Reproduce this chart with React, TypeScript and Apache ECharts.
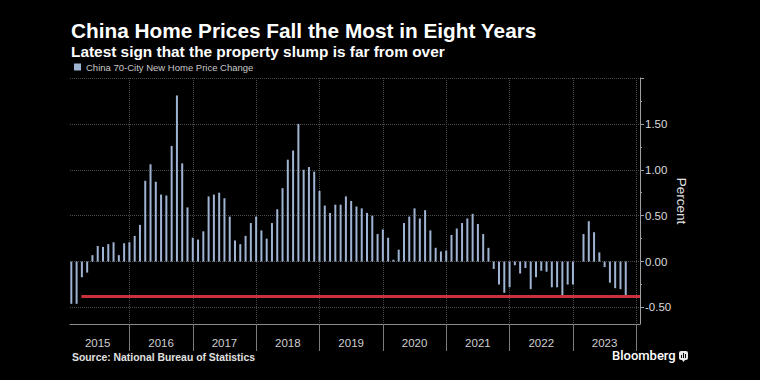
import React, { useEffect, useRef } from "react";
import * as echarts from "echarts";

const yearLabels = ["2015", "2016", "2017", "2018", "2019", "2020", "2021", "2022", "2023"];

const change2015 = [-0.46, -0.46, -0.17, -0.12, 0.07, 0.17, 0.16, 0.19, 0.21, 0.07, 0.2, 0.21];
const change2016 = [0.28, 0.4, 0.88, 1.06, 0.87, 0.73, 0.72, 1.26, 1.81, 1.07, 0.59, 0.26];
const change2017 = [0.24, 0.33, 0.71, 0.73, 0.75, 0.69, 0.49, 0.23, 0.19, 0.28, 0.42, 0.49];
const change2018 = [0.34, 0.25, 0.42, 0.57, 0.8, 1.11, 1.21, 1.5, 1.0, 1.03, 0.98, 0.77];
const change2019 = [0.61, 0.53, 0.62, 0.62, 0.71, 0.66, 0.6, 0.58, 0.53, 0.5, 0.3, 0.35];
const change2020 = [0.26, 0.02, 0.13, 0.42, 0.49, 0.58, 0.47, 0.56, 0.34, 0.15, 0.11, 0.12];
const change2021 = [0.29, 0.36, 0.42, 0.47, 0.52, 0.41, 0.3, 0.15, -0.08, -0.25, -0.34, -0.28];
const change2022 = [-0.04, -0.13, -0.07, -0.3, -0.17, -0.1, -0.11, -0.28, -0.28, -0.37, -0.25, -0.25];
const change2023 = [0.0, 0.3, 0.44, 0.32, 0.1, -0.06, -0.23, -0.29, -0.3, -0.38];

const monthlyChange = [
  ...change2015, ...change2016, ...change2017, ...change2018, ...change2019,
  ...change2020, ...change2021, ...change2022, ...change2023,
];

const SERIES_NAME = "China 70-City New Home Price Change";

// value extents (months since Jan 1 2015 / percent)
const X_MIN = 0.75;
const X_MAX = 108.7;
const Y_MIN = -0.68;
const Y_MAX = 2.0;
const YEAR_TICK_MIN = 12;
const YEAR_TICK_MAX = 108;
const YEAR_LABEL_MIN = 6;
const YEAR_LABEL_MAX = 102;
const Y_TICK_MIN = -0.5;
const RED_START = 2.9;

// layout
const W = 760;
const H = 380;
const PLOT_L = 70;
const PLOT_R = 640;
const PLOT_T = 78;
const PLOT_B = 324;

const FONT = "'Liberation Sans', Arial, sans-serif";

export default function App() {
  const ref = useRef<HTMLDivElement>(null);

  useEffect(() => {
    document.body.style.margin = "0";
    document.body.style.background = "#000";
    if (!ref.current) return;
    const chart = echarts.init(ref.current, null, { renderer: "svg" });
    const latest = monthlyChange[monthlyChange.length - 1];

    const pxX = (v: number) => PLOT_L + ((v - X_MIN) / (X_MAX - X_MIN)) * (PLOT_R - PLOT_L);
    const pxY = (v: number) => PLOT_T + ((Y_MAX - v) / (Y_MAX - Y_MIN)) * (PLOT_B - PLOT_T);

    const hiddenAxis = (gridIndex: number, min: number, max: number) => ({
      gridIndex,
      type: "value",
      show: false,
      min,
      max,
    });

    chart.setOption({
      animation: false,
      backgroundColor: "#000",
      textStyle: { fontFamily: FONT },
      title: {
        text: "China Home Prices Fall the Most in Eight Years",
        subtext: "Latest sign that the property slump is far from over",
        left: 71,
        top: 20,
        padding: 0,
        itemGap: 3,
        textStyle: { color: "#fff", fontSize: 20.8, fontWeight: "bold", fontFamily: FONT },
        subtextStyle: { color: "#fff", fontSize: 15.4, fontWeight: "bold", fontFamily: FONT },
      },
      legend: {
        data: [SERIES_NAME],
        left: 74,
        top: 62,
        padding: 0,
        icon: "rect",
        itemWidth: 7,
        itemHeight: 7,
        textStyle: { color: "#c8c8c8", fontSize: 9.5, fontFamily: FONT },
      },
      grid: [
        // 0: main plot
        { left: PLOT_L, right: W - PLOT_R, top: PLOT_T, bottom: H - PLOT_B },
        // 1: year boundary ticks + vertical grid lines
        { left: pxX(YEAR_TICK_MIN), right: W - pxX(YEAR_TICK_MAX), top: PLOT_T, bottom: H - PLOT_B },
        // 2: year labels centred in each year
        { left: pxX(YEAR_LABEL_MIN), right: W - pxX(YEAR_LABEL_MAX), top: PLOT_T, bottom: H - PLOT_B },
        // 3: value ticks, labels, horizontal grid lines
        { left: PLOT_L, right: W - PLOT_R, top: PLOT_T, bottom: H - pxY(Y_TICK_MIN) },
      ],
      xAxis: [
        {
          gridIndex: 0,
          type: "value",
          min: X_MIN,
          max: X_MAX,
          axisLine: { show: true, onZero: false, lineStyle: { color: "#8c8c8c", width: 1 } },
          axisTick: { show: false },
          axisLabel: { show: false },
          splitLine: { show: false },
        },
        {
          gridIndex: 1,
          type: "value",
          min: YEAR_TICK_MIN,
          max: YEAR_TICK_MAX,
          interval: 12,
          axisLine: { show: false, onZero: false },
          axisTick: { show: true, inside: false, length: 27, lineStyle: { color: "#7c7c7c", width: 1 } },
          axisLabel: { show: false },
          splitLine: { show: true, lineStyle: { color: "#4a4a4a", type: "dotted" } },
        },
        {
          gridIndex: 2,
          type: "value",
          min: YEAR_LABEL_MIN,
          max: YEAR_LABEL_MAX,
          interval: 12,
          axisLine: { show: false, onZero: false },
          axisTick: { show: false },
          axisLabel: {
            formatter: (v: number) => yearLabels[Math.round((v - YEAR_LABEL_MIN) / 12)] ?? "",
            color: "#cfcfcf",
            fontSize: 11.5,
            margin: 13,
            fontFamily: FONT,
          },
          splitLine: { show: false },
        },
        hiddenAxis(3, X_MIN, X_MAX),
      ],
      yAxis: [
        {
          gridIndex: 0,
          type: "value",
          position: "right",
          min: Y_MIN,
          max: Y_MAX,
          name: "Percent",
          nameLocation: "middle",
          nameRotate: -90,
          nameGap: 34,
          nameMoveOverlap: false,
          nameTextStyle: { color: "#e0e0e0", fontSize: 13.5, fontFamily: FONT },
          axisLine: { show: true, onZero: false, lineStyle: { color: "#a0a0a0" } },
          axisTick: { show: false },
          axisLabel: { show: false },
          splitLine: { show: false },
        },
        hiddenAxis(1, 0, 1),
        hiddenAxis(2, 0, 1),
        {
          gridIndex: 3,
          type: "value",
          position: "right",
          min: Y_TICK_MIN,
          max: Y_MAX,
          interval: 0.5,
          axisLine: { show: false, onZero: false },
          axisTick: { show: true, length: 4, lineStyle: { color: "#a0a0a0" } },
          minorTick: { show: true, splitNumber: 2, length: 2, lineStyle: { color: "#a0a0a0" } },
          axisLabel: {
            formatter: (v: number) => (v >= Y_MAX ? "" : v.toFixed(2)),
            color: "#dcdcdc",
            fontSize: 11.5,
            margin: 5,
            fontFamily: FONT,
          },
          splitLine: { show: true, lineStyle: { color: "#4a4a4a", type: "dotted" } },
        },
      ],
      series: [
        {
          name: SERIES_NAME,
          type: "bar",
          xAxisIndex: 0,
          yAxisIndex: 0,
          barWidth: 2,
          itemStyle: { color: "#9fb3d3" },
          data: monthlyChange.map((v, i) => [i + 1, v]),
          markLine: {
            silent: true,
            symbol: ["none", "none"],
            label: { show: false },
            lineStyle: { color: "#c9323d", width: 3, type: "solid" },
            data: [[{ coord: [RED_START, latest] }, { coord: [X_MAX, latest] }]],
          },
        },
      ],
      graphic: [
        {
          type: "text",
          left: 72,
          top: 352,
          style: {
            text: "Source: National Bureau of Statistics",
            fill: "#e0e0e0",
            fontSize: 10.4,
            fontWeight: "bold",
            fontFamily: FONT,
          },
        },
        {
          type: "text",
          left: 612,
          top: 349,
          style: {
            text: "Bloomberg",
            fill: "#ffffff",
            fontSize: 13,
            fontFamily: "Roboto, 'Liberation Sans', sans-serif",
            fontWeight: 500,
          },
        },
        {
          type: "group",
          left: 679,
          top: 351,
          children: [
            { type: "rect", shape: { x: 0, y: 0, width: 9, height: 9, r: 2 }, style: { fill: "#e8e8e8" } },
            { type: "rect", shape: { x: 2, y: 4, width: 1, height: 3 }, style: { fill: "#000" } },
            { type: "rect", shape: { x: 4, y: 2, width: 1, height: 5 }, style: { fill: "#000" } },
            { type: "rect", shape: { x: 6, y: 3, width: 1, height: 4 }, style: { fill: "#000" } },
            { type: "polygon", shape: { points: [[3, 9], [6, 9], [4.5, 11]] }, style: { fill: "#e8e8e8" } },
          ],
        },
      ],
    });

    return () => chart.dispose();
  }, []);

  return (
    <div
      ref={ref}
      style={{ position: "fixed", left: 0, top: 0, width: W, height: H, background: "#000" }}
    />
  );
}
